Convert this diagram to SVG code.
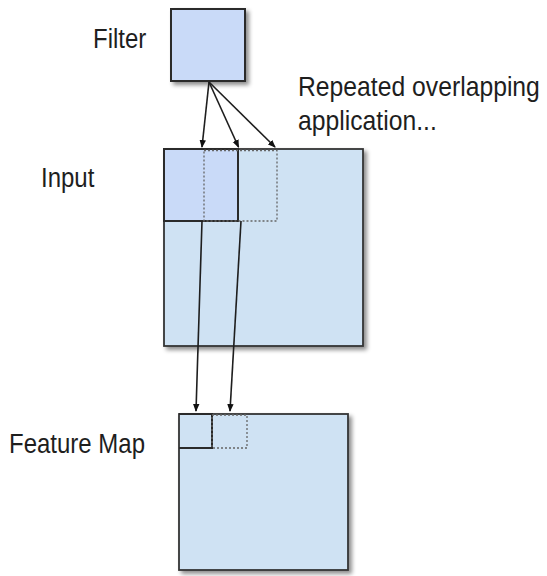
<svg xmlns="http://www.w3.org/2000/svg" width="547" height="576" viewBox="0 0 547 576">
<defs>
<style>
.lbl{font-family:"Liberation Sans",Arial,sans-serif;font-size:24px;fill:#1e1e1e}
.box{fill:#cfe2f3;stroke:#333;stroke-width:1.8}
.dark{fill:#c9daf8;stroke:#2a2a2a;stroke-width:2}
.dot{fill:none;stroke:#666;stroke-width:1.3;stroke-dasharray:2 2}
.solid{fill:none;stroke:#2a2a2a;stroke-width:2}
.arr{stroke:#1e1e1e;stroke-width:1.6;fill:none;marker-end:url(#ah)}
</style>
<marker id="ah" markerWidth="8" markerHeight="8" refX="7" refY="4" orient="auto" markerUnits="userSpaceOnUse">
<path d="M0,0.8 L8,4 L0,7.2 Z" fill="#111"/>
</marker>
<filter id="sh" x="-10%" y="-10%" width="130%" height="130%">
<feDropShadow dx="3" dy="3" stdDeviation="2" flood-color="#000" flood-opacity="0.45"/>
</filter>
</defs>
<rect width="547" height="576" fill="#fff"/>
<g id="labels">
<text class="lbl" transform="translate(93,48) scale(1,1.18)">Filter</text>
<text class="lbl" transform="translate(298,96) scale(1.03,1.18)">Repeated overlapping</text>
<text class="lbl" transform="translate(298,130) scale(1.03,1.18)">application...</text>
<text class="lbl" transform="translate(41,187) scale(1,1.18)">Input</text>
<text class="lbl" transform="translate(9,453) scale(1,1.18)">Feature Map</text>
</g>
<g id="filter">
<rect class="dark" x="171" y="9" width="74" height="72" filter="url(#sh)"/>
</g>
<g id="input">
<rect class="box" x="164" y="149" width="199" height="197" filter="url(#sh)"/>
<rect class="dark" x="164" y="149" width="74" height="72"/>
<rect class="dot" x="204" y="150.5" width="73" height="70.5"/>
</g>
<g id="featuremap">
<rect class="box" x="179" y="414" width="169" height="156" filter="url(#sh)"/>
<path class="solid" d="M179,414 H212 V448 H179"/>
<rect class="dot" x="212" y="415" width="35" height="33"/>
</g>
<g id="connectors">
<line class="arr" x1="209" y1="82" x2="202" y2="147"/>
<line class="arr" x1="209" y1="82" x2="238.5" y2="147"/>
<line class="arr" x1="209" y1="82" x2="275" y2="147"/>
<line class="arr" x1="202" y1="221" x2="196" y2="411"/>
<line class="arr" x1="241" y1="221" x2="230" y2="411"/>
</g>
</svg>
